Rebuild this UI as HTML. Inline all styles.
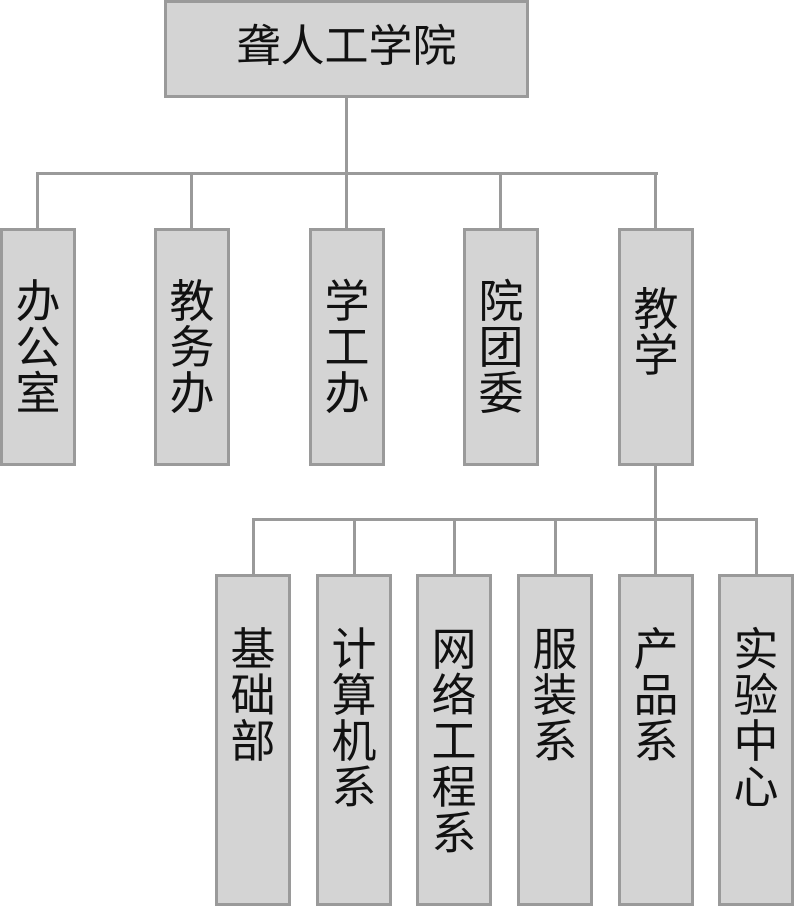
<!DOCTYPE html>
<html><head><meta charset="utf-8"><style>
body{margin:0;width:794px;height:906px;background:#fff;position:relative;overflow:hidden;font-family:"Liberation Sans","Noto Sans CJK SC",sans-serif;color:#111}
.b{position:absolute;box-sizing:border-box;background:#d4d4d4;border:3px solid #9a9a9a}
.t{position:absolute;left:0;right:0;text-align:center;font-size:45px;line-height:46px}
.l{position:absolute;background:#9a9a9a}
</style></head><body>
<div class="b" style="left:164px;top:0;width:365px;height:98px"><div class="t" style="top:21px;font-size:44px">聋人工学院</div></div>
<div class="l" style="left:345px;top:97px;width:3px;height:78px"></div>
<div class="l" style="left:36px;top:172px;width:622px;height:3px"></div>
<div class="l" style="left:36px;top:172px;width:3px;height:58px"></div>
<div class="l" style="left:190px;top:172px;width:3px;height:58px"></div>
<div class="l" style="left:345px;top:172px;width:3px;height:58px"></div>
<div class="l" style="left:499px;top:172px;width:3px;height:58px"></div>
<div class="l" style="left:654px;top:172px;width:3px;height:58px"></div>
<div class="b" style="left:0;top:228px;width:76px;height:238px"><div class="t" style="top:48px">办<br>公<br>室</div></div>
<div class="b" style="left:154px;top:228px;width:76px;height:238px"><div class="t" style="top:48px">教<br>务<br>办</div></div>
<div class="b" style="left:309px;top:228px;width:76px;height:238px"><div class="t" style="top:48px">学<br>工<br>办</div></div>
<div class="b" style="left:463px;top:228px;width:76px;height:238px"><div class="t" style="top:48px">院<br>团<br>委</div></div>
<div class="b" style="left:618px;top:228px;width:76px;height:238px"><div class="t" style="top:56px">教<br>学</div></div>
<div class="l" style="left:654px;top:465px;width:3px;height:112px"></div>
<div class="l" style="left:252px;top:518px;width:506px;height:3px"></div>
<div class="l" style="left:252px;top:518px;width:3px;height:58px"></div>
<div class="l" style="left:353px;top:518px;width:3px;height:58px"></div>
<div class="l" style="left:453px;top:518px;width:3px;height:58px"></div>
<div class="l" style="left:554px;top:518px;width:3px;height:58px"></div>
<div class="l" style="left:755px;top:518px;width:3px;height:58px"></div>
<div class="b" style="left:215px;top:574px;width:76px;height:332px"><div class="t" style="top:50px">基<br>础<br>部</div></div>
<div class="b" style="left:316px;top:574px;width:76px;height:332px"><div class="t" style="top:50px">计<br>算<br>机<br>系</div></div>
<div class="b" style="left:416px;top:574px;width:76px;height:332px"><div class="t" style="top:50px">网<br>络<br>工<br>程<br>系</div></div>
<div class="b" style="left:517px;top:574px;width:76px;height:332px"><div class="t" style="top:50px">服<br>装<br>系</div></div>
<div class="b" style="left:618px;top:574px;width:76px;height:332px"><div class="t" style="top:50px">产<br>品<br>系</div></div>
<div class="b" style="left:718px;top:574px;width:76px;height:332px"><div class="t" style="top:50px">实<br>验<br>中<br>心</div></div>
</body></html>
